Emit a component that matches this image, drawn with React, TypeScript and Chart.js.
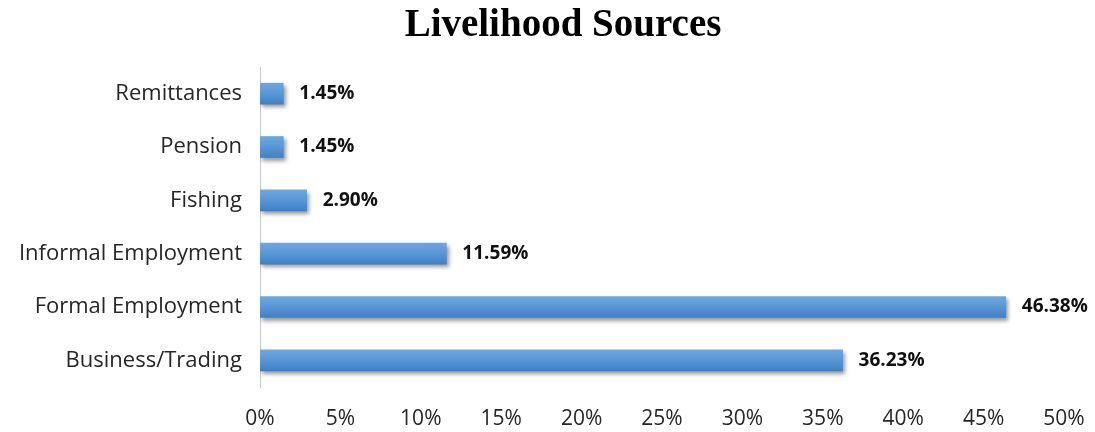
import React, { useEffect, useRef } from "react";
import { Chart, registerables } from "chart.js";

Chart.register(...registerables);

const categories = [
  "Remittances",
  "Pension",
  "Fishing",
  "Informal Employment",
  "Formal Employment",
  "Business/Trading",
];
const values = [1.45, 1.45, 2.9, 11.59, 46.38, 36.23];
const valueLabels = ["1.45%", "1.45%", "2.90%", "11.59%", "46.38%", "36.23%"];
const xTicks = [0, 5, 10, 15, 20, 25, 30, 35, 40, 45, 50];
const titleText = "Livelihood Sources";

const BAR_T = 21;

export default function App() {
  const ref = useRef<HTMLCanvasElement>(null);

  useEffect(() => {
    document.body.style.margin = "0";
    const canvas = ref.current!;
    const shadowPlugin = {
      id: "barShadow",
      beforeDatasetDraw(chart: any) {
        const ctx = chart.ctx;
        ctx.save();
        ctx.shadowColor = "rgba(0,0,0,0.4)";
        ctx.shadowBlur = 4;
        ctx.shadowOffsetX = 2;
        ctx.shadowOffsetY = 3;
      },
      afterDatasetDraw(chart: any) {
        chart.ctx.restore();
      },
    };
    const labelPlugin = {
      id: "valueLabels",
      afterDatasetsDraw(chart: any) {
        const ctx = chart.ctx;
        const meta = chart.getDatasetMeta(0);
        ctx.save();
        ctx.font = "bold 19px 'Open Sans'";
        ctx.fillStyle = "#111";
        ctx.textBaseline = "middle";
        ctx.textAlign = "left";
        meta.data.forEach((el: any, i: number) => {
          const t = valueLabels[i];
          const w = ctx.measureText(t).width;
          let x = el.x + 16;
          if (x + w > 1088) x = 1088 - w;
          ctx.fillText(t, x, el.y);
        });
        ctx.restore();
      },
    };
    const titlePlugin = {
      id: "customTitle",
      afterDraw(chart: any) {
        const ctx = chart.ctx;
        ctx.save();
        ctx.font = "bold 39px 'Liberation Serif'";
        ctx.fillStyle = "#000";
        ctx.textAlign = "center";
        ctx.textBaseline = "alphabetic";
        ctx.fillText(titleText, 563, 36);
        ctx.restore();
      },
    };

    const chart = new Chart(canvas, {
      type: "bar",
      data: {
        labels: categories,
        datasets: [
          {
            data: values,
            barThickness: BAR_T,
            backgroundColor: (c: any) => {
              const ch = c.chart;
              const ys = ch.scales?.y;
              if (!ys || c.dataIndex === undefined) return "#5b9bd5";
              const yc = ys.getPixelForValue(c.dataIndex);
              if (!isFinite(yc)) return "#5b9bd5";
              const g = ch.ctx.createLinearGradient(0, yc - BAR_T / 2, 0, yc + BAR_T / 2);
              g.addColorStop(0, "#6ea7de");
              g.addColorStop(0.5, "#5896d6");
              g.addColorStop(1, "#3f80c4");
              return g;
            },
            borderWidth: 0,
          },
        ],
      },
      options: {
        indexAxis: "y",
        animation: false,
        responsive: false,
        layout: { padding: { top: 67, right: 31, left: 0, bottom: 0 } },
        plugins: {
          legend: { display: false },
          title: { display: false },
          tooltip: { enabled: false },
        },
        scales: {
          x: {
            min: 0,
            max: 50,
            afterBuildTicks: (s: any) => {
              s.ticks = xTicks.map((v) => ({ value: v }));
            },
            afterFit: (s: any) => {
              s.height = 45;
              s.paddingLeft = 0;
              s.paddingRight = 0;
            },
            grid: { display: false, drawTicks: false },
            border: { display: false },
            ticks: {
              padding: 19,
              color: "#262626",
              font: { family: "Open Sans", size: 21 },
              callback: (v: any) => v + "%",
            },
          },
          y: {
            afterFit: (s: any) => {
              s.width = 260;
              s.paddingTop = 0;
              s.paddingBottom = 0;
            },
            grid: { display: false, drawTicks: false },
            border: { display: true, color: "#c8c8c8", width: 1 },
            ticks: {
              padding: 18,
              color: "#262626",
              font: { family: "Open Sans", size: 22 },
            },
          },
        },
      },
      plugins: [shadowPlugin, labelPlugin, titlePlugin],
    } as any);
    return () => chart.destroy();
  }, []);

  return (
    <div style={{ width: 1095, height: 432 }}>
      <canvas ref={ref} width={1095} height={432} style={{ display: "block" }} />
    </div>
  );
}
